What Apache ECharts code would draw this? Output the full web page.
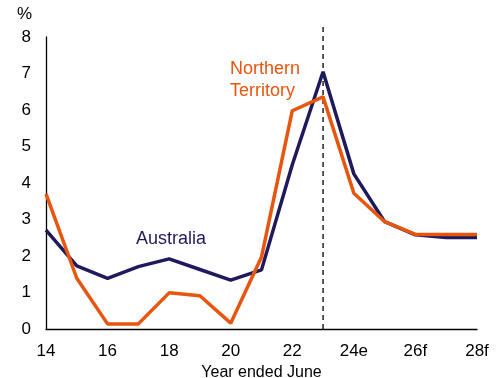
<!DOCTYPE html>
<html><head><meta charset="utf-8">
<script src="https://cdn.jsdelivr.net/npm/echarts@6/dist/echarts.min.js"></script>
<style>html,body{margin:0;padding:0;background:#fff}#c{width:503px;height:378px}</style>
</head><body><div id="c"></div>
<script>
const categories = ['14','15','16','17','18','19','20','21','22','23','24e','25','26f','27','28f'];
const australia = [2.71,1.73,1.39,1.71,1.92,1.63,1.34,1.62,4.5,7.05,4.25,2.94,2.58,2.51,2.51];
const northernTerritory = [3.7,1.39,0.14,0.14,0.99,0.91,0.16,1.97,5.98,6.36,3.72,2.94,2.59,2.59,2.59];
const yTicks = [0,1,2,3,4,5,6,7,8];
const dividerYear = '23';
const dividerSpan = [0, 8.33];

const font = 'Liberation Sans, Arial, sans-serif';
const chart = echarts.init(document.getElementById('c'));
chart.setOption({
  animation: false,
  grid: {left: 46, right: 26, top: 37, bottom: 49, outerBoundsMode: 'none', containLabel: false},
  xAxis: {
    type: 'category', data: categories, boundaryGap: false,
    axisLine: {lineStyle: {color: '#000', width: 1.3}},
    axisTick: {show: false},
    axisLabel: {interval: 1, color: '#000', fontSize: 17, fontFamily: font, margin: 14},
    name: 'Year ended June', nameLocation: 'middle', nameGap: 34,
    nameTextStyle: {color: '#000', fontSize: 16, fontFamily: font}
  },
  yAxis: {
    type: 'value', min: yTicks[0], max: yTicks[yTicks.length-1], interval: 1,
    axisLine: {show: true, lineStyle: {color: '#000', width: 1.3}},
    axisTick: {show: false}, splitLine: {show: false},
    axisLabel: {color: '#000', fontSize: 17, fontFamily: font, margin: 15},
    name: '%', nameLocation: 'end', nameGap: 14,
    nameTextStyle: {color: '#000', fontSize: 17, fontFamily: font, align: 'right', padding: [0, 14, 0, 0]}
  },
  series: [
    {
      type: 'line', data: dividerSpan.map(v => [dividerYear, v]), symbol: 'none', clip: false, silent: true,
      lineStyle: {color: '#000', type: [5, 4], width: 1.3}, z: 2
    },
    {
      type: 'line', data: australia, symbol: 'none', clip: false,
      lineStyle: {color: '#1f1a5c', width: 3.5}, z: 3
    },
    {
      type: 'line', data: northernTerritory, symbol: 'none', clip: false,
      lineStyle: {color: '#e8550e', width: 3.5}, z: 4
    }
  ],
  graphic: [
    {type: 'text', left: 230, top: 58, style: {text: 'Northern\nTerritory', fill: '#e8550e', font: '18px ' + font, lineHeight: 22}},
    {type: 'text', left: 136, top: 230, style: {text: 'Australia', fill: '#1f1a5c', font: '18px ' + font}}
  ]
});
</script></body></html>
